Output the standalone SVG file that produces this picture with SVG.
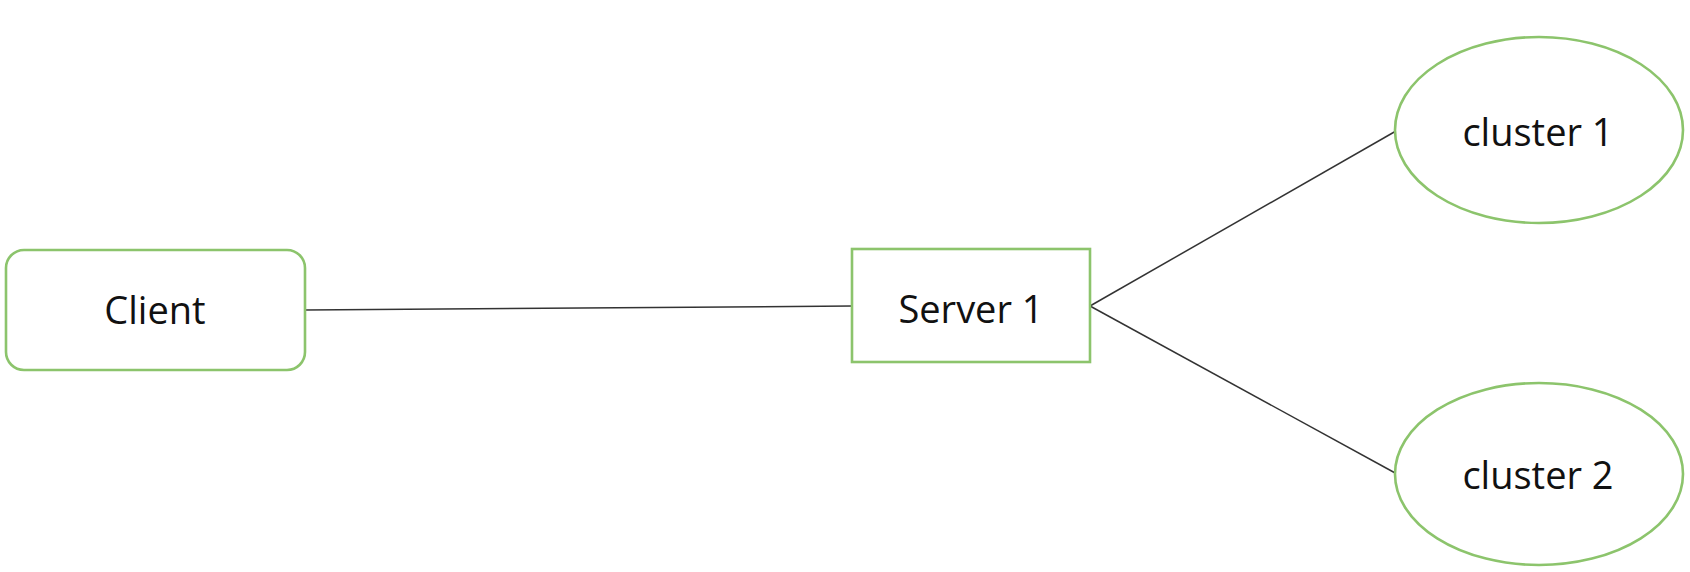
<svg xmlns="http://www.w3.org/2000/svg" width="1690" height="572" viewBox="0 0 1690 572">
<style>
.n{fill:#fff;stroke:#8cc46c;stroke-width:2.6}
.t{font-family:"Open Sans","Liberation Sans",sans-serif;font-size:38px;fill:#111;text-anchor:middle}
.c{stroke:#333;stroke-width:1.5;fill:none}
</style>
<rect width="1690" height="572" fill="#fff"/>
<g id="connectors">
<line class="c" x1="305" y1="310" x2="852" y2="306"/>
<line class="c" x1="1090" y1="306" x2="1396" y2="131"/>
<line class="c" x1="1090" y1="306" x2="1397" y2="474"/>
</g>
<g id="client"><rect class="n" x="6" y="250" width="299" height="120" rx="18"/><text class="t" x="155" y="324">Client</text></g>
<g id="server1"><rect class="n" x="852" y="249" width="238" height="113"/><text class="t" x="971" y="323">Server 1</text></g>
<g id="cluster1"><ellipse class="n" cx="1539" cy="130" rx="144" ry="93"/><text class="t" x="1538" y="146">cluster 1</text></g>
<g id="cluster2"><ellipse class="n" cx="1539" cy="474" rx="144" ry="91"/><text class="t" x="1538" y="489">cluster 2</text></g>
</svg>
